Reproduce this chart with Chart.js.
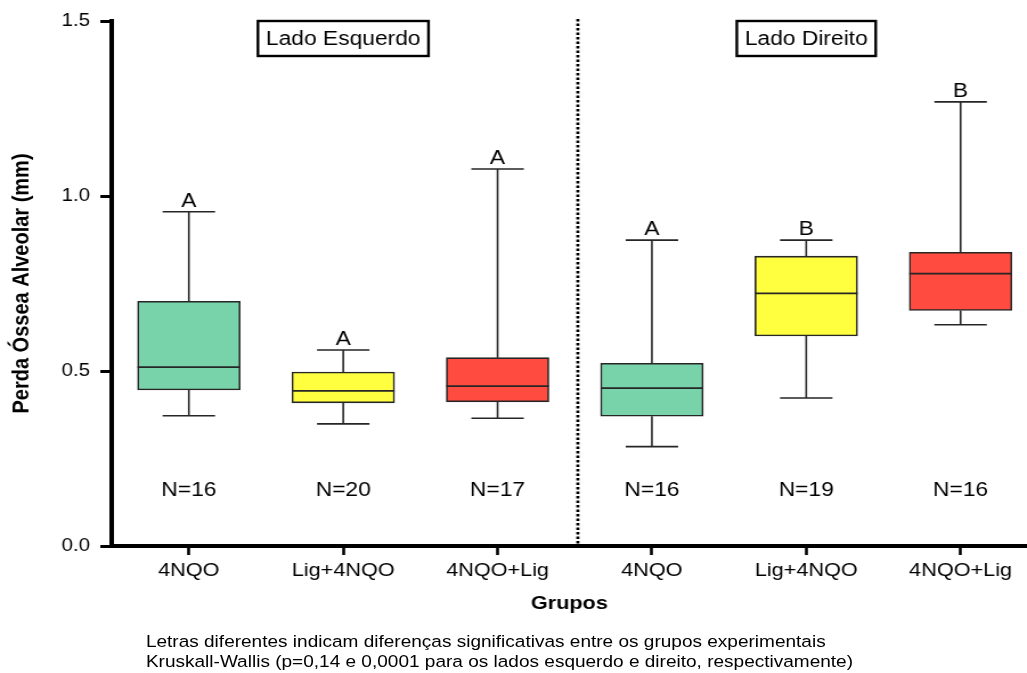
<!DOCTYPE html>
<html>
<head>
<meta charset="utf-8">
<script src="https://cdn.jsdelivr.net/npm/chart.js@4.4.0/dist/chart.umd.min.js"></script>
<style>
html,body{margin:0;padding:0;background:#fff;overflow:hidden;width:1027px;height:673px;}
#wrap{position:absolute;left:0;top:0;width:901px;height:673px;transform-origin:0 0;transform:scaleX(1.1398);}
#foot{position:absolute;left:128px;top:632px;font-family:"Liberation Sans",Arial,sans-serif;font-size:16.7px;line-height:20px;color:#000;white-space:nowrap;}
</style>
</head>
<body>
<div id="wrap">
  <canvas id="c"></canvas>
  <div id="foot">Letras diferentes indicam diferenças significativas entre os grupos experimentais<br>Kruskall-Wallis (p=0,14 e 0,0001 para os lados esquerdo e direito, respectivamente)</div>
</div>
<script>
// ---- data ----
const categories = ['4NQO', 'Lig+4NQO', '4NQO+Lig', '4NQO', 'Lig+4NQO', '4NQO+Lig'];
const whiskerMin = [0.372, 0.349, 0.365, 0.284, 0.423, 0.632];
const q1        = [0.446, 0.409, 0.412, 0.371, 0.600, 0.673];
const median    = [0.511, 0.443, 0.457, 0.451, 0.722, 0.778];
const q3        = [0.699, 0.497, 0.538, 0.522, 0.828, 0.839];
const whiskerMax = [0.955, 0.560, 1.077, 0.874, 0.874, 1.269];
const sampleSizes = [16, 20, 17, 16, 19, 16];
const letters = ['A', 'A', 'A', 'A', 'B', 'B'];
const sideLabels = ['Lado Esquerdo', 'Lado Direito'];
const sideCenters = [1, 4];
const yTicks = [0, 0.5, 1.0, 1.5];

// ---- styles ----
const FONT = '"Liberation Sans", Arial, sans-serif';
const boxColors = ['#78D3AB', '#FFFF40', '#FF4B40', '#78D3AB', '#FFFF40', '#FF4B40'];
const LINE = '#262626';

const extras = {
  id: 'extras',
  beforeDatasetsDraw(chart) {
    const {ctx, scales: {x, y}, chartArea} = chart;
    ctx.save();
    // divider
    ctx.strokeStyle = '#000';
    ctx.lineWidth = 2.7;
    ctx.setLineDash([2.5, 2]);
    const dx = x.getPixelForValue(2.52);
    ctx.beginPath();
    ctx.moveTo(dx, chartArea.top - 2);
    ctx.lineTo(dx, chartArea.bottom);
    ctx.stroke();
    ctx.setLineDash([]);
    // whiskers
    ctx.strokeStyle = LINE;
    ctx.lineWidth = 1.6;
    const capHalf = 23;
    categories.forEach((c, i) => {
      const px = x.getPixelForValue(i);
      const yMax = y.getPixelForValue(whiskerMax[i]);
      const yMin = y.getPixelForValue(whiskerMin[i]);
      ctx.beginPath();
      ctx.moveTo(px, y.getPixelForValue(q3[i])); ctx.lineTo(px, yMax);
      ctx.moveTo(px - capHalf, yMax); ctx.lineTo(px + capHalf, yMax);
      ctx.moveTo(px, y.getPixelForValue(q1[i])); ctx.lineTo(px, yMin);
      ctx.moveTo(px - capHalf, yMin); ctx.lineTo(px + capHalf, yMin);
      ctx.stroke();
    });
    ctx.restore();
  },
  afterDatasetsDraw(chart) {
    const {ctx, scales: {x, y}, chartArea} = chart;
    const meta = chart.getDatasetMeta(0);
    ctx.save();
    ctx.strokeStyle = LINE;
    ctx.lineWidth = 1.7;
    categories.forEach((c, i) => {
      const bar = meta.data[i];
      const half = bar.width / 2;
      const px = x.getPixelForValue(i);
      const ym = y.getPixelForValue(median[i]);
      ctx.beginPath();
      ctx.moveTo(px - half, ym); ctx.lineTo(px + half, ym);
      ctx.stroke();
      ctx.fillStyle = '#000';
      ctx.font = '20px ' + FONT;
      ctx.textAlign = 'center';
      ctx.textBaseline = 'alphabetic';
      ctx.fillText(letters[i], px, y.getPixelForValue(whiskerMax[i]) - 5);
      ctx.fillText('N=' + sampleSizes[i], px, 496);
    });
    // side labels
    ctx.font = '20px ' + FONT;
    ctx.textBaseline = 'middle';
    ctx.lineWidth = 2.4;
    ctx.strokeStyle = '#000';
    sideLabels.forEach((t, k) => {
      const cx = x.getPixelForValue(sideCenters[k]);
      const w = ctx.measureText(t).width + 14;
      const top = chartArea.top, h = 35;
      ctx.strokeRect(cx - w / 2, top, w, h);
      ctx.fillText(t, cx, top + h / 2 + 1);
    });
    ctx.restore();
  }
};

new Chart(document.getElementById('c'), {
  type: 'bar',
  data: {
    datasets: [{
      data: categories.map((c, i) => ({x: i, y: [q1[i], q3[i]]})),
      backgroundColor: boxColors,
      borderColor: LINE,
      borderWidth: 1.6,
      borderSkipped: false,
      barThickness: 90
    }]
  },
  options: {
    responsive: true,
    maintainAspectRatio: false,
    animation: false,
    events: [],
    layout: {padding: {top: 21, left: 0, right: 0, bottom: 0}},
    plugins: {legend: {display: false}, tooltip: {enabled: false}},
    scales: {
      x: {
        type: 'linear',
        offset: false,
        min: -0.5,
        max: 5.43,
        afterBuildTicks: s => { s.ticks = categories.map((c, i) => ({value: i})); },
        afterFit: s => { s.height = 127; },
        ticks: {
          callback: v => categories[v],
          autoSkip: false, maxRotation: 0,
          font: {family: FONT, size: 19}, color: '#000', padding: 4
        },
        grid: {offset: false, drawOnChartArea: false, drawTicks: true, tickLength: 9, tickWidth: 2.6, tickColor: '#000'},
        border: {display: true, width: 4, color: '#000'},
        title: {display: true, text: 'Grupos', color: '#000',
          font: {family: FONT, size: 19, weight: 'bold'}, padding: {top: 0, bottom: 58}}
      },
      y: {
        type: 'linear',
        min: 0, max: 1.5,
        afterBuildTicks: s => { s.ticks = yTicks.map(v => ({value: v})); },
        afterFit: s => { s.width = 98; },
        ticks: {
          callback: v => Number(v).toFixed(1),
          font: {family: FONT, size: 18}, color: '#000', padding: 9
        },
        grid: {drawOnChartArea: false, drawTicks: true, tickLength: 10, tickWidth: 3, tickColor: '#000'},
        border: {display: true, width: 4, color: '#000'},
        title: {display: true, text: 'Perda Óssea Alveolar (mm)', color: '#000',
          font: {family: FONT, size: 20, weight: 'bold'}, padding: {top: 7, bottom: 0}}
      }
    }
  },
  plugins: [extras]
});
</script>
</body>
</html>
